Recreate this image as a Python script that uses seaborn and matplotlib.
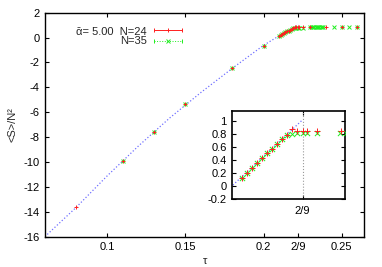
import matplotlib
matplotlib.use("Agg")
import matplotlib.pyplot as plt
import numpy as np
import pandas as pd
import seaborn as sns

# theory curve
theory_tau = [0.06, 0.08, 0.10, 0.12, 0.14, 0.16, 0.18, 0.20, 0.2081, 2 / 9]
theory_s = [-16.0, -13.65, -11.1, -8.7, -6.45, -4.4, -2.47, -0.62, 0.0, 1.02]

# N=24 (red +)
tau_24 = [0.08, 0.11, 0.13, 0.15, 0.18, 0.20,
          0.210, 0.211, 0.212, 0.213, 0.214, 0.215, 0.216, 0.217, 0.218, 0.219,
          0.220, 0.221, 2 / 9, 0.223, 0.225, 0.230, 0.240, 0.250, 0.260]
s_24 = [-13.65, -9.89, -7.58, -5.37, -2.47, -0.69,
        0.12, 0.20, 0.27, 0.35, 0.43, 0.50, 0.57, 0.64, 0.72, 0.79,
        0.87, 0.84, 0.84, 0.84, 0.84, 0.84, 0.84, 0.84, 0.84]

# N=35 (green x)
tau_35 = [0.11, 0.13, 0.15, 0.18, 0.20,
          0.210, 0.211, 0.212, 0.213, 0.214, 0.215, 0.216, 0.217, 0.218, 0.219,
          0.220, 0.221, 2 / 9, 0.223, 0.225, 0.2298, 0.231, 0.2318, 0.2326,
          0.2334, 0.2342, 0.235, 0.2358, 0.2366, 0.2374, 0.238, 0.245, 0.250,
          0.255, 0.260]
s_35 = [-9.89, -7.58, -5.37, -2.47, -0.69,
        0.12, 0.20, 0.27, 0.35, 0.43, 0.50, 0.57, 0.64, 0.72, 0.79,
        0.80, 0.81, 0.81, 0.81, 0.81, 0.82, 0.82, 0.82, 0.82,
        0.82, 0.82, 0.82, 0.82, 0.82, 0.82, 0.82, 0.82, 0.82,
        0.82, 0.82]

main_xticks = [0.1, 0.15, 0.2, 2 / 9, 0.25]
main_xlabels = ["0.1", "0.15", "0.2", "2/9", "0.25"]
main_yticks = list(range(-16, 3, 2))
inset_yticks = [-0.2, 0, 0.2, 0.4, 0.6, 0.8, 1]
inset_ylabels = ["-0.2", "0", "0.2", "0.4", "0.6", "0.8", "1"]

RED = "#ff2020"
GREEN = "#20ee20"
BLUE = "#7070ff"

sns.set_style("ticks")
plt.rcParams["font.family"] = ["Liberation Sans", "DejaVu Sans"]
plt.rcParams["axes.unicode_minus"] = False
plt.rcParams["font.size"] = 8

df_th = pd.DataFrame({"tau": theory_tau, "s": theory_s})
df24 = pd.DataFrame({"tau": tau_24, "s": s_24})
df35 = pd.DataFrame({"tau": tau_35, "s": s_35})


def draw(ax, msize):
    sns.lineplot(data=df_th, x="tau", y="s", color=BLUE, linestyle=":",
                 linewidth=0.9, ax=ax, sort=False)
    sns.scatterplot(data=df35, x="tau", y="s", marker="x", color=GREEN,
                    s=msize, linewidth=0.7, ax=ax, zorder=3)
    sns.scatterplot(data=df24, x="tau", y="s", marker="+", color=RED,
                    s=msize * 1.2, linewidth=0.7, ax=ax, zorder=4)
    ax.set_xlabel("")
    ax.set_ylabel("")
    for sp in ax.spines.values():
        sp.set_visible(True)
        sp.set_linewidth(1.0)
        sp.set_color("black")
    ax.tick_params(direction="in", length=3, width=0.8, top=True, right=True,
                   labelsize=8, pad=4, colors="black")


fig = plt.figure(figsize=(3.82, 2.67), dpi=100)
ax = fig.add_axes([0.1178, 0.1135, 0.8359, 0.8389])
draw(ax, 8)
ax.set_xlim(0.0601, 0.2645)
ax.set_ylim(-16, 2)
ax.set_xticks(main_xticks)
ax.set_xticklabels(main_xlabels)
ax.set_yticks(main_yticks)
ax.set_xlabel("τ", fontsize=8, labelpad=3)
ax.set_ylabel("<S>/N²", fontsize=8, labelpad=4)

# legend drawn gnuplot-style
ax.text(0.319, 0.914, "ᾱ= 5.00  N=24", transform=ax.transAxes, ha="right",
        va="center", fontsize=8)
ax.text(0.319, 0.872, "N=35", transform=ax.transAxes, ha="right",
        va="center", fontsize=8)
ax.plot([0.341, 0.429], [0.921, 0.921], color=RED, lw=0.7,
        transform=ax.transAxes)
ax.plot([0.341, 0.429], [0.921, 0.921], ls="none", marker="|", ms=3.5,
        color=RED, mew=0.7, transform=ax.transAxes)
ax.plot([0.385], [0.921], ls="none", marker="+", ms=3.5, color=RED, mew=0.7,
        transform=ax.transAxes)
ax.plot([0.341, 0.429], [0.875, 0.875], color=GREEN, lw=0.7, ls=":",
        transform=ax.transAxes)
ax.plot([0.341, 0.429], [0.875, 0.875], ls="none", marker="|", ms=3.5,
        color=GREEN, mew=0.7, transform=ax.transAxes)
ax.plot([0.385], [0.875], ls="none", marker="x", ms=3, color=GREEN, mew=0.7,
        transform=ax.transAxes)

# inset
axin = fig.add_axes([0.608, 0.256, 0.295, 0.328])
draw(axin, 14)
axin.set_xlim(0.2081, 0.2307)
axin.set_ylim(-0.2, 1.153)
axin.set_xticks([2 / 9])
axin.set_xticklabels(["2/9"])
axin.set_yticks(inset_yticks)
axin.set_yticklabels(inset_ylabels)
axin.tick_params(axis="x", pad=5)
axin.axvline(2 / 9, color="#999999", ls=":", lw=0.8, zorder=1)
for sp in axin.spines.values():
    sp.set_linewidth(1.2)

fig.savefig("out.png", dpi=100)
